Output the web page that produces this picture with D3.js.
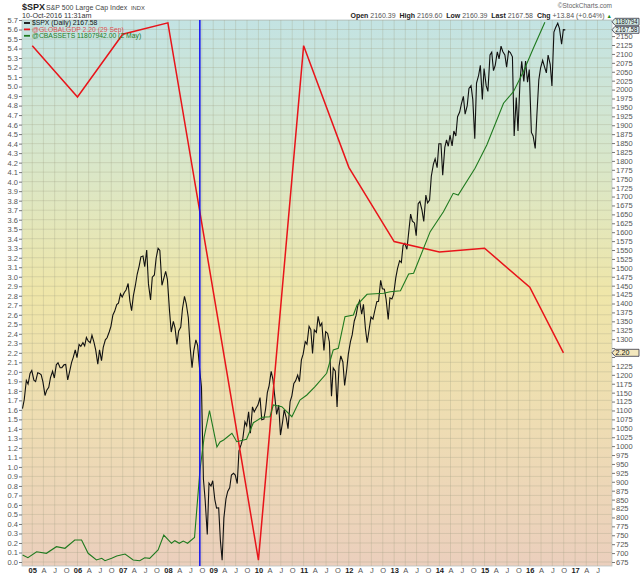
<!DOCTYPE html>
<html>
<head>
<meta charset="utf-8">
<script src="https://d3js.org/d3.v7.min.js"></script>
<style>
  body { margin: 0; background: #fff; }
  svg { display: block; font-family: "Liberation Sans", Arial, sans-serif; }
</style>
</head>
<body>
<svg id="chart" width="640" height="576"></svg>
<script>
"use strict";

// $SPX, two readings per month (14th and 28th) starting Oct 2004
const spxValues = [
  1105, 1130, 1184, 1174, 1204, 1212,
  1185, 1181, 1206, 1204, 1200, 1180, 1142, 1157, 1165, 1192, 1210, 1191, 1228, 1234, 1220, 1220, 1228, 1229, 1186, 1207, 1234, 1249, 1270, 1248,
  1285, 1280, 1290, 1281, 1305, 1295, 1290, 1311, 1292, 1270, 1230, 1270, 1240, 1277, 1298, 1304, 1320, 1336, 1368, 1378, 1397, 1401, 1427, 1418,
  1431, 1438, 1456, 1407, 1380, 1421, 1452, 1482, 1505, 1531, 1533, 1503, 1550, 1455, 1410, 1474, 1480, 1527, 1555, 1549, 1451, 1469, 1490, 1468,
  1380, 1320, 1350, 1331, 1285, 1323, 1334, 1386, 1420, 1400, 1360, 1280, 1220, 1267, 1298, 1283, 1213, 1166, 907, 848, 752, 896, 888, 903,
  850, 826, 827, 735, 680, 798, 852, 873, 883, 919, 924, 919, 895, 987, 1004, 1021, 1068, 1057, 1096, 1036, 1110, 1096, 1107, 1115,
  1136, 1074, 1076, 1104, 1150, 1169, 1210, 1187, 1136, 1089, 1115, 1031, 1065, 1102, 1079, 1049, 1125, 1141, 1176, 1183, 1199, 1181, 1242, 1258,
  1293, 1286, 1336, 1327, 1260, 1326, 1319, 1364, 1337, 1345, 1268, 1321, 1316, 1292, 1140, 1219, 1210, 1110, 1224, 1253, 1236, 1170, 1212, 1258,
  1293, 1312, 1351, 1366, 1395, 1408, 1370, 1398, 1330, 1290, 1330, 1362, 1356, 1379, 1405, 1406, 1465, 1441, 1440, 1412, 1355, 1416, 1413, 1426,
  1472, 1498, 1520, 1515, 1563, 1569, 1552, 1598, 1651, 1631, 1626, 1590, 1680, 1686, 1661, 1630, 1704, 1682, 1690, 1757, 1791, 1806, 1781, 1848,
  1848, 1760, 1838, 1859, 1841, 1872, 1842, 1884, 1870, 1924, 1937, 1960, 1981, 1931, 1955, 2003, 2011, 1972, 1862, 2018, 2040, 2068, 1972, 2059,
  2011, 1995, 2097, 2105, 2053, 2068, 2106, 2086, 2122, 2107, 2097, 2063, 2108, 2104, 2092, 1870, 1978, 1884, 2023, 2079, 2023, 2080, 2021, 2056,
  1880, 1870, 1835, 1932, 2027, 2060, 2082, 2065, 2047, 2097, 2071, 2010, 2161, 2174, 2186, 2171, 2127, 2168, 2167.58
];

// @GLOBALGDP (left axis)
const gdpDates = ["2005-01-01", "2006-01-01", "2007-01-01", "2008-01-01", "2009-01-01", "2010-01-01",
  "2011-01-01", "2012-01-01", "2013-01-01", "2014-01-01", "2015-01-01", "2016-01-01", "2016-09-29"];
const gdpValues = [5.43, 4.89, 5.55, 5.67, 2.85, 0.02, 5.43, 4.15, 3.37, 3.26, 3.30, 2.89, 2.20];

// @CBASSETS (own hidden scale, millions)
const cbDates = ["2004-10-15", "2004-11-27", "2005-02-05", "2005-04-25", "2005-07-15", "2005-09-22",
  "2005-12-10", "2006-02-03", "2006-03-28", "2006-06-03", "2006-07-16", "2006-08-11", "2006-10-04",
  "2006-11-14", "2007-01-20", "2007-03-27", "2007-05-19", "2007-06-28", "2007-08-07", "2007-10-14",
  "2007-11-29", "2008-01-30", "2008-02-26", "2008-04-02", "2008-05-04", "2008-06-08", "2008-08-03",
  "2008-09-16", "2008-10-20", "2008-12-02", "2009-01-31", "2009-02-25", "2009-03-26", "2009-06-01",
  "2009-07-10", "2009-09-27", "2009-11-21", "2010-01-30", "2010-04-05", "2010-05-01", "2010-07-09",
  "2010-09-28", "2010-12-02", "2011-01-27", "2011-04-03", "2011-07-06", "2011-08-28", "2011-10-08",
  "2011-12-01", "2012-02-07", "2012-03-07", "2012-05-27", "2012-10-08", "2012-11-30", "2013-02-21",
  "2013-04-28", "2013-06-07", "2013-10-19", "2014-02-03", "2014-04-23", "2014-06-02", "2014-10-16",
  "2015-01-19", "2015-06-03", "2015-08-22", "2015-11-10", "2016-01-30", "2016-05-02"];
const cbValues = [5.432, 5.399, 5.471, 5.452, 5.531, 5.512,
  5.611, 5.611, 5.452, 5.372, 5.392, 5.363, 5.392,
  5.420, 5.444, 5.372, 5.363, 5.399, 5.392, 5.492,
  5.671, 5.572, 5.603, 5.572, 5.599, 5.572, 5.641,
  6.449, 6.844, 7.159, 6.724, 6.784, 6.808, 6.888,
  6.788, 6.817, 7.015, 7.080, 7.087, 7.227, 7.207,
  7.087, 7.287, 7.347, 7.446, 7.607, 7.886, 7.906,
  8.284, 8.304, 8.424, 8.552, 8.564, 8.583, 8.595,
  8.795, 8.804, 9.302, 9.541, 9.761, 9.741, 10.060,
  10.339, 10.839, 10.977, 11.217, 11.497, 11.808];

const eventDate = "2008-09-15";
const monthLetters = ["", "A", "J", "O"];
const legendLabels = ["$SPX (Daily) 2167.58", "@GLOBALGDP 2.20 (29 Sep)", "@CBASSETS 11807942.00 (2 May)"];

const svg = d3.select("#chart");
const W = 640, H = 576;
const plot = { left: 22, right: 612, top: 20, bottom: 566 };
const parse = d3.timeParse("%Y-%m-%d");

const x = d3.scaleTime()
  .domain([new Date(2004, 9, 10), new Date(2017, 9, 26)])
  .range([plot.left, plot.right]);
const yLeft = d3.scaleLinear().domain([0, 5.7]).range([562, 20]);
const yRight = d3.scaleLinear().domain([675, 2150]).range([562, 36.1]);
const yCb = d3.scaleLinear().domain([5.30, 11.808]).range([566, 22.3]);

const spxDates = spxValues.map((v, i) => new Date(2004, 9 + Math.floor(i / 2), i % 2 ? 28 : 14));
const spx = spxValues.map((v, i) => ({ d: spxDates[i], v: v }));
const gdp = gdpValues.map((v, i) => ({ d: parse(gdpDates[i]), v: v }));
const cb = cbValues.map((v, i) => ({ d: parse(cbDates[i]), v: v }));

// background gradient
const grad = svg.append("defs").append("linearGradient")
  .attr("id", "bg").attr("x1", 0).attr("y1", 0).attr("x2", 0).attr("y2", 1);
[[0, "#c3e3e3"], [0.25, "#d8e7cb"], [0.5, "#efe6a9"], [0.75, "#eedcb3"], [1, "#ebcfbd"]]
  .forEach(s => grad.append("stop").attr("offset", s[0]).attr("stop-color", s[1]));
svg.append("clipPath").attr("id", "clip").append("rect")
  .attr("x", plot.left).attr("y", plot.top)
  .attr("width", plot.right - plot.left).attr("height", plot.bottom - plot.top);

svg.append("rect")
  .attr("x", plot.left).attr("y", plot.top)
  .attr("width", plot.right - plot.left).attr("height", plot.bottom - plot.top)
  .attr("fill", "url(#bg)").attr("stroke", "#b8c4c4").attr("stroke-width", 0.8);

// ticks
const leftTicks = d3.range(0, 58).map(i => i / 10);
const rightTicks = d3.range(675, 2151, 25);
const quarterTicks = d3.timeMonth.every(3).range(new Date(2005, 0, 1), new Date(2017, 9, 1));

const grid = svg.append("g").attr("clip-path", "url(#clip)")
  .attr("stroke", "#9c9c80").attr("stroke-opacity", 0.35).attr("stroke-width", 0.8);
grid.selectAll("line.h").data(leftTicks).join("line").attr("class", "h")
  .attr("x1", plot.left).attr("x2", plot.right)
  .attr("y1", d => yLeft(d)).attr("y2", d => yLeft(d));
grid.selectAll("line.v").data(quarterTicks).join("line").attr("class", "v")
  .attr("y1", plot.top).attr("y2", plot.bottom)
  .attr("x1", d => x(d)).attr("x2", d => x(d));

// axes
const axisStyle = g => {
  g.select(".domain").remove();
  g.selectAll("line").attr("stroke", "#777");
  g.selectAll("text").attr("fill", "#555").style("font-size", "7.5px");
};
svg.append("g").attr("transform", `translate(${plot.left},0)`)
  .call(d3.axisLeft(yLeft).tickValues(leftTicks).tickSize(3).tickPadding(1).tickFormat(d3.format(".1f")))
  .call(axisStyle);

// the GDP value tag sits on top of the 1250 label, as in the source chart
const tagGdpY = yLeft(2.20);
svg.append("g").attr("transform", `translate(${plot.right},0)`)
  .call(d3.axisRight(yRight).tickValues(rightTicks).tickSize(3).tickPadding(1)
    .tickFormat(d => Math.abs(yRight(d) - tagGdpY) < 5 ? "" : d))
  .call(axisStyle);
const xAxis = svg.append("g").attr("transform", `translate(0,${plot.bottom})`)
  .call(d3.axisBottom(x).tickValues(quarterTicks).tickSize(0).tickPadding(2)
    .tickFormat(d => d.getMonth() === 0 ? d3.timeFormat("%y")(d) : monthLetters[d.getMonth() / 3]))
  .call(axisStyle);
xAxis.selectAll("text").style("font-size", "7.5px")
  .attr("font-weight", d => d.getMonth() === 0 ? "bold" : null)
  .attr("fill", d => d.getMonth() === 0 ? "#222" : "#555");

// series
const marks = svg.append("g").attr("clip-path", "url(#clip)").attr("fill", "none");
marks.append("path").datum(spx)
  .attr("d", d3.line().x(d => x(d.d)).y(d => yRight(d.v)))
  .attr("stroke", "#111").attr("stroke-width", 1.1).attr("stroke-linejoin", "miter");
marks.append("path").datum(gdp)
  .attr("d", d3.line().x(d => x(d.d)).y(d => yLeft(d.v)))
  .attr("stroke", "#e8141a").attr("stroke-width", 1.5);
marks.append("path").datum(cb)
  .attr("d", d3.line().x(d => x(d.d)).y(d => yCb(d.v)))
  .attr("stroke", "#1f7a1f").attr("stroke-width", 1.1);
marks.append("line")
  .attr("x1", x(parse(eventDate))).attr("x2", x(parse(eventDate)))
  .attr("y1", plot.top).attr("y2", plot.bottom)
  .attr("stroke", "#1010f0").attr("stroke-width", 1.5);

// legend
const legColors = ["#111", "#e8141a", "#1f7a1f"];
const leg = svg.append("g").style("font-size", "6.8px");
legendLabels.forEach((t, i) => {
  const y = 23 + i * 6.4;
  leg.append("line").attr("x1", 24).attr("x2", 30).attr("y1", y).attr("y2", y)
    .attr("stroke", legColors[i]).attr("stroke-width", 1.8);
  leg.append("text").attr("x", 32).attr("y", y + 2.4).attr("fill", legColors[i])
    .attr("fill-opacity", i === 1 ? 0.75 : 1).text(t);
});

// value tags on the right
function tag(y, label, fill) {
  const g = svg.append("g");
  g.append("path")
    .attr("d", `M${plot.right},${y} L${plot.right + 3},${y - 3.5} L${W - 1},${y - 3.5} L${W - 1},${y + 3.5} L${plot.right + 3},${y + 3.5} Z`)
    .attr("fill", fill).attr("stroke", "#334").attr("stroke-width", 0.8);
  g.append("text").attr("x", plot.right + 3.5).attr("y", y + 2.4)
    .attr("fill", "#111").style("font-size", "6.8px")
    .attr("textLength", Math.min(22, label.length * 3.5)).attr("lengthAdjust", "spacingAndGlyphs")
    .text(label);
}
tag(tagGdpY, "2.20", "#f3e7bd");
tag(yRight(2167.58), "2167.58", "#e4f1f1");
tag(yCb(11.808) - 0.5, "1180794", "#d6ece6");

// header
const head = svg.append("g").attr("fill", "#222");
head.append("text").attr("x", 22).attr("y", 9.5).attr("font-weight", "bold").style("font-size", "9px").text("$SPX");
head.append("text").attr("x", 46).attr("y", 9.5).style("font-size", "7px").attr("fill", "#444").text("S&P 500 Large Cap Index");
head.append("text").attr("x", 131).attr("y", 9.5).style("font-size", "5.8px").attr("fill", "#444").text("INDX");
head.append("text").attr("x", 22).attr("y", 17.5).style("font-size", "7.2px").attr("fill", "#333").text("10-Oct-2016 11:31am");
head.append("text").attr("x", 612).attr("y", 7.5).attr("text-anchor", "end").style("font-size", "6.5px").attr("fill", "#666").text("©StockCharts.com");

const ohlc = head.append("text").attr("x", 612).attr("y", 17.5).attr("text-anchor", "end").style("font-size", "7px");
[["Open ", true], ["2160.39  ", false], ["High ", true], ["2169.60  ", false], ["Low ", true], ["2160.39  ", false],
 ["Last ", true], ["2167.58  ", false], ["Chg ", true], ["+13.84 (+0.64%) ", false]]
  .forEach(p => ohlc.append("tspan").attr("font-weight", p[1] ? "bold" : null)
    .attr("fill", p[1] ? "#222" : "#555").attr("xml:space", "preserve").text(p[0]));
ohlc.append("tspan").attr("fill", "#1a8a1a").style("font-size", "5.5px").text("▲");
</script>
</body>
</html>
